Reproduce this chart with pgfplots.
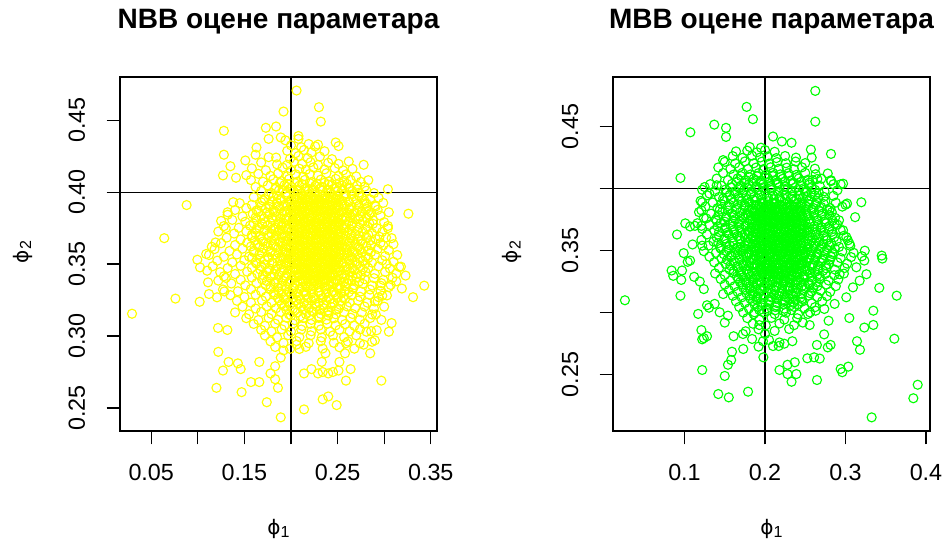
\documentclass[border=0pt]{standalone}
\usepackage{fontspec}
\setmainfont{Liberation Sans}
\newfontfamily\phifont{DejaVu Sans}
\usepackage{pgfplots}
\pgfplotsset{compat=1.18}

\definecolor{ryellow}{RGB}{255,255,0}
\definecolor{rgreen}{RGB}{0,255,0}

\newcommand{\philab}[1]{{\phifont\fontsize{15}{18}\selectfont ϕ}\raisebox{-0.45ex}{\fontsize{12}{14}\selectfont #1}}

\pgfplotsset{
  rpanel/.style={
    scale only axis,
    width=237.75pt, height=265.5pt,
    axis line style={line width=0.9pt},
    tick align=outside,
    major tick length=10pt,
    major tick style={black, line width=0.9pt},
    xtick pos=left, ytick pos=left,
    ticklabel style={font=\fontsize{17.5}{20}\selectfont, inner sep=0pt},
    xticklabel style={anchor=base},
    xticklabel shift=26.75pt,
    yticklabel style={rotate=90, anchor=base},
    yticklabel shift=16.25pt,
    clip=true,
  },
  rpts/.style={only marks, mark=o, mark size=3.4pt, mark options={line width=0.85pt, draw=#1}, color=#1},
  rref/.style={black, line width=0.9pt, no marks},
}

\begin{document}
\begin{tikzpicture}
\useasboundingbox (0,0) rectangle (709.5pt,408pt);

% ---------- left panel: NBB estimates ----------
\begin{axis}[rpanel, at={(90pt,84.75pt)}, anchor=south west,
  xmin=0.0165, xmax=0.3567, ymin=0.234, ymax=0.480,
  xtick={0.05,0.10,0.15,0.20,0.25,0.30,0.35},
  xticklabels={0.05,,0.15,,0.25,,0.35},
  ytick={0.25,0.30,0.35,0.40,0.45},
  yticklabels={0.25,0.30,0.35,0.40,0.45}]
% scattered estimates
\addplot[rpts=ryellow] coordinates {
(0.206,0.4706) (0.230,0.459) (0.232,0.449) (0.192,0.456) (0.128,0.4426) (0.173,0.4447) (0.184,0.4456) (0.176,0.437) (0.189,0.438) (0.194,0.436) (0.208,0.439) (0.208,0.437) (0.229,0.433) (0.248,0.4345) (0.251,0.432) (0.163,0.431) (0.162,0.426) (0.128,0.426) (0.135,0.418) (0.127,0.4116) (0.141,0.410) (0.151,0.422) (0.184,0.424) (0.196,0.419) (0.278,0.419) (0.304,0.402) (0.088,0.391) (0.064,0.368) (0.326,0.385) (0.305,0.386) (0.291,0.390) (0.308,0.368) (0.304,0.375) (0.138,0.393) (0.125,0.380) (0.119,0.365) (0.109,0.357)
(0.132,0.386) (0.130,0.375) (0.115,0.362)
(0.281,0.392) (0.283,0.387) (0.288,0.378) (0.295,0.369) (0.299,0.363) (0.3026,0.350) (0.3162,0.348) (0.313,0.338) (0.305,0.334) (0.298,0.328) (0.296,0.335)
(0.0294,0.3155) (0.076,0.326) (0.343,0.335) (0.331,0.327) (0.319,0.333) (0.323,0.342) (0.122,0.289) (0.127,0.276) (0.120,0.264) (0.133,0.282) (0.143,0.281) (0.146,0.277) (0.166,0.282) (0.157,0.268) (0.166,0.268) (0.147,0.261) (0.174,0.254) (0.189,0.2435) (0.186,0.264) (0.183,0.270) (0.178,0.274) (0.183,0.279) (0.189,0.285) (0.192,0.290) (0.214,0.249) (0.234,0.256) (0.240,0.258) (0.249,0.252) (0.214,0.274) (0.222,0.277) (0.229,0.274) (0.234,0.275) (0.240,0.274) (0.245,0.275) (0.251,0.276) (0.259,0.269) (0.264,0.277) (0.297,0.269) (0.237,0.288) (0.233,0.282) (0.252,0.282) (0.258,0.288) (0.259,0.295) (0.209,0.291) (0.206,0.294) (0.285,0.288) (0.287,0.296) (0.278,0.294) (0.290,0.297) (0.308,0.309) (0.305,0.303) (0.292,0.304) (0.281,0.303) (0.290,0.324) (0.291,0.315)
(0.1217,0.3056) (0.1317,0.3042) (0.102,0.3238) (0.0995,0.3530) (0.1024,0.3477) (0.110,0.3454) (0.111,0.3373) (0.112,0.3292) (0.1206,0.3269) (0.1285,0.331) (0.122,0.3385) (0.128,0.3415)
};
% main cloud
\addplot[rpts=ryellow] coordinates {
(0.200,0.4325) (0.211,0.4312) (0.219,0.4334) (0.226,0.4318)
(0.196,0.4287) (0.205,0.4271) (0.214,0.4293) (0.222,0.4276) (0.236,0.4284)
(0.176,0.4243) (0.199,0.4232) (0.208,0.4251) (0.218,0.4236) (0.231,0.4247) (0.244,0.4229)
(0.168,0.4206) (0.185,0.4193) (0.203,0.4211) (0.212,0.4195) (0.221,0.4208) (0.229,0.4189) (0.240,0.4204) (0.251,0.4196) (0.262,0.4213)
(0.158,0.4165) (0.173,0.4152) (0.191,0.4171) (0.200,0.4149) (0.209,0.4163) (0.216,0.4155) (0.224,0.4172) (0.236,0.4158) (0.247,0.4167) (0.256,0.4151) (0.266,0.4162)
(0.152,0.4118) (0.165,0.4127) (0.178,0.4113) (0.186,0.4129) (0.196,0.4111) (0.205,0.4124) (0.213,0.4108) (0.220,0.4126) (0.229,0.4115) (0.238,0.4131) (0.251,0.4112) (0.259,0.4123) (0.270,0.4109)
(0.157,0.4084) (0.170,0.4072) (0.181,0.4089) (0.190,0.4076) (0.198,0.4091) (0.207,0.4073) (0.215,0.4085) (0.222,0.4069) (0.232,0.4087) (0.241,0.4074) (0.248,0.4092) (0.257,0.4078) (0.264,0.4086) (0.275,0.4071) (0.283,0.4083)
(0.162,0.4036) (0.175,0.4047) (0.184,0.4031) (0.193,0.4049) (0.201,0.4034) (0.209,0.4045) (0.217,0.4029) (0.226,0.4043) (0.233,0.4037) (0.240,0.4051) (0.249,0.4033) (0.255,0.4046) (0.262,0.4032) (0.271,0.4044) (0.279,0.4038)
(0.168,0.4008) (0.179,0.3994) (0.187,0.4011) (0.195,0.3997) (0.203,0.4006) (0.211,0.3991) (0.219,0.4009) (0.226,0.3995) (0.234,0.4012) (0.242,0.3998) (0.250,0.4004) (0.258,0.3989) (0.266,0.4007) (0.273,0.3996) (0.281,0.4010) (0.289,0.3993)
(0.160,0.3965) (0.172,0.3951) (0.181,0.3968) (0.189,0.3954) (0.196,0.3971) (0.203,0.3957) (0.209,0.3963) (0.215,0.3949) (0.221,0.3966) (0.227,0.3952) (0.233,0.3969) (0.239,0.3955) (0.245,0.3962) (0.252,0.3948) (0.259,0.3967) (0.267,0.3953) (0.276,0.3964) (0.285,0.3950) (0.294,0.3961)
(0.145,0.3923) (0.158,0.3912) (0.168,0.3929) (0.177,0.3914) (0.185,0.3926) (0.192,0.3909) (0.199,0.3927) (0.205,0.3913) (0.212,0.3925) (0.218,0.3911) (0.224,0.3928) (0.230,0.3915) (0.236,0.3924) (0.242,0.3910) (0.248,0.3927) (0.255,0.3913) (0.262,0.3929) (0.270,0.3916) (0.279,0.3922) (0.290,0.3908) (0.299,0.3925)
(0.140,0.3876) (0.152,0.3889) (0.163,0.3872) (0.173,0.3887) (0.181,0.3871) (0.188,0.3884) (0.195,0.3869) (0.201,0.3886) (0.207,0.3873) (0.213,0.3888) (0.219,0.3874) (0.225,0.3885) (0.231,0.3870) (0.237,0.3887) (0.243,0.3875) (0.249,0.3883) (0.256,0.3868) (0.263,0.3886) (0.271,0.3873) (0.281,0.3884) (0.293,0.3877)
(0.132,0.3843) (0.148,0.3831) (0.159,0.3847) (0.168,0.3834) (0.177,0.3849) (0.184,0.3832) (0.191,0.3845) (0.198,0.3829) (0.204,0.3846) (0.210,0.3833) (0.216,0.3848) (0.222,0.3835) (0.228,0.3844) (0.234,0.3830) (0.240,0.3847) (0.246,0.3834) (0.252,0.3843) (0.259,0.3829) (0.266,0.3846) (0.274,0.3832) (0.284,0.3844) (0.296,0.3836)
(0.137,0.3807) (0.151,0.3794) (0.163,0.3809) (0.172,0.3792) (0.180,0.3806) (0.187,0.3791) (0.194,0.3808) (0.201,0.3795) (0.207,0.3810) (0.213,0.3793) (0.219,0.3805) (0.225,0.3790) (0.231,0.3808) (0.237,0.3796) (0.243,0.3809) (0.249,0.3792) (0.255,0.3806) (0.262,0.3794) (0.269,0.3811) (0.277,0.3797) (0.288,0.3804) (0.300,0.3791)
(0.128,0.3764) (0.144,0.3752) (0.156,0.3767) (0.166,0.3751) (0.175,0.3769) (0.183,0.3754) (0.190,0.3766) (0.197,0.3750) (0.203,0.3768) (0.209,0.3753) (0.215,0.3765) (0.221,0.3749) (0.227,0.3767) (0.233,0.3755) (0.239,0.3763) (0.245,0.3751) (0.251,0.3769) (0.258,0.3752) (0.265,0.3766) (0.273,0.3754) (0.282,0.3762) (0.292,0.3750) (0.304,0.3765)
(0.122,0.3726) (0.139,0.3712) (0.152,0.3728) (0.162,0.3715) (0.171,0.3729) (0.179,0.3711) (0.186,0.3724) (0.193,0.3709) (0.200,0.3727) (0.206,0.3713) (0.212,0.3726) (0.218,0.3710) (0.224,0.3728) (0.230,0.3714) (0.236,0.3725) (0.242,0.3712) (0.248,0.3729) (0.254,0.3716) (0.261,0.3723) (0.269,0.3709) (0.277,0.3727) (0.287,0.3713) (0.298,0.3724)
(0.131,0.3684) (0.146,0.3671) (0.158,0.3687) (0.168,0.3673) (0.176,0.3689) (0.183,0.3674) (0.190,0.3686) (0.197,0.3669) (0.203,0.3685) (0.209,0.3672) (0.215,0.3688) (0.221,0.3675) (0.227,0.3683) (0.233,0.3670) (0.239,0.3687) (0.245,0.3673) (0.251,0.3689) (0.257,0.3676) (0.264,0.3682) (0.272,0.3671) (0.281,0.3686) (0.291,0.3674) (0.302,0.3685)
(0.125,0.3645) (0.140,0.3632) (0.153,0.3648) (0.164,0.3634) (0.173,0.3647) (0.181,0.3631) (0.188,0.3649) (0.195,0.3633) (0.201,0.3646) (0.207,0.3630) (0.213,0.3648) (0.219,0.3635) (0.225,0.3644) (0.231,0.3629) (0.237,0.3647) (0.243,0.3634) (0.249,0.3645) (0.255,0.3632) (0.262,0.3648) (0.269,0.3636) (0.277,0.3643) (0.286,0.3631) (0.296,0.3646) (0.310,0.3638)
(0.118,0.3604) (0.134,0.3591) (0.148,0.3607) (0.160,0.3593) (0.170,0.3609) (0.178,0.3592) (0.186,0.3605) (0.193,0.3590) (0.199,0.3608) (0.205,0.3594) (0.211,0.3606) (0.217,0.3589) (0.223,0.3607) (0.229,0.3595) (0.235,0.3603) (0.241,0.3591) (0.247,0.3609) (0.253,0.3596) (0.259,0.3604) (0.266,0.3590) (0.274,0.3606) (0.283,0.3593) (0.293,0.3605) (0.305,0.3597)
(0.112,0.3563) (0.128,0.3551) (0.142,0.3567) (0.155,0.3552) (0.166,0.3568) (0.175,0.3554) (0.183,0.3566) (0.190,0.3549) (0.197,0.3565) (0.203,0.3553) (0.209,0.3569) (0.215,0.3550) (0.221,0.3564) (0.227,0.3552) (0.233,0.3567) (0.239,0.3555) (0.245,0.3562) (0.251,0.3548) (0.257,0.3566) (0.264,0.3553) (0.271,0.3568) (0.280,0.3551) (0.290,0.3564) (0.301,0.3556) (0.314,0.3563)
(0.121,0.3524) (0.137,0.3512) (0.150,0.3527) (0.162,0.3513) (0.172,0.3529) (0.180,0.3511) (0.188,0.3526) (0.195,0.3514) (0.201,0.3528) (0.207,0.3510) (0.213,0.3525) (0.219,0.3513) (0.225,0.3527) (0.231,0.3509) (0.237,0.3526) (0.243,0.3514) (0.249,0.3524) (0.255,0.3511) (0.262,0.3528) (0.269,0.3515) (0.277,0.3523) (0.287,0.3510) (0.298,0.3526) (0.310,0.3516)
(0.116,0.3485) (0.132,0.3472) (0.146,0.3488) (0.158,0.3474) (0.168,0.3486) (0.177,0.3470) (0.185,0.3487) (0.192,0.3473) (0.198,0.3489) (0.204,0.3471) (0.210,0.3484) (0.216,0.3476) (0.222,0.3488) (0.228,0.3472) (0.234,0.3485) (0.240,0.3469) (0.246,0.3487) (0.252,0.3474) (0.259,0.3483) (0.266,0.3471) (0.274,0.3486) (0.283,0.3473) (0.294,0.3484) (0.306,0.3470) (0.318,0.3482)
(0.124,0.3444) (0.140,0.3431) (0.153,0.3447) (0.164,0.3433) (0.174,0.3448) (0.182,0.3430) (0.189,0.3445) (0.196,0.3434) (0.202,0.3447) (0.208,0.3429) (0.214,0.3446) (0.220,0.3432) (0.226,0.3443) (0.232,0.3435) (0.238,0.3448) (0.244,0.3431) (0.250,0.3444) (0.256,0.3430) (0.263,0.3447) (0.271,0.3433) (0.280,0.3445) (0.290,0.3432) (0.301,0.3446) (0.313,0.3434)
(0.130,0.3404) (0.146,0.3391) (0.158,0.3407) (0.169,0.3393) (0.178,0.3408) (0.186,0.3390) (0.193,0.3405) (0.200,0.3392) (0.206,0.3409) (0.212,0.3394) (0.218,0.3403) (0.224,0.3389) (0.230,0.3406) (0.236,0.3393) (0.242,0.3408) (0.248,0.3391) (0.255,0.3404) (0.262,0.3390) (0.270,0.3407) (0.279,0.3395) (0.289,0.3402) (0.299,0.3390) (0.309,0.3405)
(0.136,0.3365) (0.151,0.3352) (0.163,0.3368) (0.173,0.3354) (0.182,0.3366) (0.190,0.3350) (0.197,0.3367) (0.204,0.3353) (0.210,0.3369) (0.216,0.3351) (0.222,0.3364) (0.228,0.3355) (0.234,0.3368) (0.240,0.3352) (0.246,0.3365) (0.253,0.3349) (0.260,0.3366) (0.268,0.3354) (0.277,0.3363) (0.287,0.3351) (0.297,0.3367) (0.307,0.3355)
(0.127,0.3323) (0.143,0.3311) (0.157,0.3326) (0.168,0.3312) (0.178,0.3328) (0.187,0.3310) (0.195,0.3325) (0.202,0.3313) (0.209,0.3327) (0.216,0.3309) (0.223,0.3324) (0.230,0.3314) (0.237,0.3326) (0.244,0.3311) (0.251,0.3328) (0.258,0.3312) (0.266,0.3325) (0.275,0.3310) (0.285,0.3323) (0.296,0.3314)
(0.135,0.3284) (0.150,0.3271) (0.162,0.3287) (0.173,0.3273) (0.183,0.3288) (0.192,0.3270) (0.200,0.3285) (0.208,0.3274) (0.216,0.3286) (0.224,0.3269) (0.232,0.3283) (0.240,0.3272) (0.248,0.3287) (0.256,0.3271) (0.265,0.3284) (0.274,0.3273) (0.284,0.3286) (0.294,0.3270) (0.303,0.3282)
(0.142,0.3245) (0.157,0.3232) (0.169,0.3247) (0.179,0.3231) (0.188,0.3246) (0.197,0.3233) (0.206,0.3248) (0.214,0.3230) (0.222,0.3244) (0.230,0.3234) (0.238,0.3247) (0.246,0.3231) (0.254,0.3245) (0.263,0.3233) (0.272,0.3246) (0.282,0.3232) (0.293,0.3244)
(0.148,0.3204) (0.162,0.3191) (0.174,0.3207) (0.184,0.3193) (0.193,0.3208) (0.202,0.3190) (0.211,0.3205) (0.219,0.3192) (0.227,0.3206) (0.235,0.3194) (0.243,0.3203) (0.251,0.3189) (0.260,0.3206) (0.269,0.3193) (0.279,0.3205) (0.289,0.3191) (0.300,0.3204)
(0.140,0.3164) (0.155,0.3151) (0.168,0.3167) (0.179,0.3153) (0.189,0.3166) (0.198,0.3150) (0.207,0.3165) (0.216,0.3152) (0.224,0.3168) (0.232,0.3154) (0.240,0.3163) (0.248,0.3151) (0.257,0.3166) (0.266,0.3153) (0.276,0.3164) (0.287,0.3150)
(0.152,0.3124) (0.165,0.3111) (0.176,0.3126) (0.186,0.3113) (0.195,0.3127) (0.204,0.3110) (0.213,0.3125) (0.222,0.3112) (0.230,0.3126) (0.238,0.3114) (0.246,0.3123) (0.255,0.3111) (0.264,0.3127) (0.274,0.3113) (0.285,0.3125) (0.297,0.3112)
(0.160,0.3084) (0.172,0.3071) (0.183,0.3086) (0.193,0.3073) (0.202,0.3087) (0.212,0.3070) (0.221,0.3085) (0.230,0.3072) (0.239,0.3086) (0.248,0.3074) (0.258,0.3083) (0.268,0.3071) (0.279,0.3085)
(0.168,0.3043) (0.179,0.3032) (0.190,0.3047) (0.200,0.3031) (0.211,0.3045) (0.222,0.3033) (0.232,0.3046) (0.242,0.3030) (0.252,0.3044) (0.263,0.3032) (0.274,0.3046) (0.286,0.3034)
(0.172,0.3004) (0.185,0.2991) (0.197,0.3006) (0.209,0.2993) (0.221,0.3005) (0.233,0.2990) (0.245,0.3004) (0.257,0.2992) (0.270,0.3005)
(0.178,0.2963) (0.192,0.2952) (0.206,0.2965) (0.219,0.2951) (0.232,0.2964) (0.246,0.2953) (0.261,0.2962) (0.274,0.2950)
(0.183,0.2924) (0.199,0.2911) (0.216,0.2925) (0.234,0.2913) (0.252,0.2922) (0.268,0.2912)
};
% filling around the centre
\addplot[rpts=ryellow] coordinates {
(0.188,0.4063) (0.196,0.4057) (0.204,0.4064) (0.212,0.4056) (0.220,0.4062) (0.228,0.4058) (0.236,0.4065) (0.244,0.4056) (0.252,0.4063) (0.260,0.4057)
(0.183,0.4022) (0.191,0.4017) (0.199,0.4024) (0.207,0.4016) (0.215,0.4023) (0.223,0.4018) (0.231,0.4024) (0.239,0.4016) (0.247,0.4023) (0.255,0.4017) (0.263,0.4024) (0.271,0.4018)
(0.176,0.3983) (0.185,0.3977) (0.194,0.3984) (0.257,0.3976) (0.265,0.3983) (0.273,0.3977)
(0.170,0.3942) (0.180,0.3937) (0.189,0.3944) (0.262,0.3936) (0.270,0.3943) (0.279,0.3938)
(0.168,0.3903) (0.177,0.3897) (0.186,0.3904) (0.265,0.3896) (0.273,0.3903) (0.282,0.3898)
(0.165,0.3862) (0.174,0.3857) (0.183,0.3864) (0.268,0.3856) (0.276,0.3863) (0.286,0.3857)
(0.162,0.3823) (0.171,0.3817) (0.180,0.3824) (0.189,0.3816) (0.264,0.3823) (0.272,0.3818) (0.281,0.3824)
(0.160,0.3782) (0.169,0.3777) (0.178,0.3784) (0.186,0.3776) (0.266,0.3783) (0.274,0.3777) (0.284,0.3784)
(0.163,0.3743) (0.172,0.3737) (0.181,0.3744) (0.188,0.3736) (0.263,0.3743) (0.271,0.3738) (0.280,0.3744)
(0.158,0.3702) (0.167,0.3697) (0.176,0.3704) (0.184,0.3696) (0.265,0.3703) (0.273,0.3697) (0.283,0.3704)
(0.161,0.3663) (0.170,0.3657) (0.179,0.3664) (0.187,0.3656) (0.267,0.3663) (0.275,0.3658) (0.285,0.3664)
(0.157,0.3622) (0.166,0.3617) (0.175,0.3624) (0.184,0.3616) (0.264,0.3623) (0.272,0.3617) (0.281,0.3624)
(0.160,0.3583) (0.169,0.3577) (0.178,0.3584) (0.187,0.3576) (0.268,0.3583) (0.276,0.3578) (0.286,0.3584)
(0.158,0.3542) (0.167,0.3537) (0.176,0.3544) (0.185,0.3536) (0.266,0.3543) (0.274,0.3537) (0.283,0.3544)
(0.163,0.3503) (0.172,0.3497) (0.181,0.3504) (0.189,0.3496) (0.263,0.3503) (0.271,0.3498) (0.280,0.3504)
(0.167,0.3462) (0.176,0.3457) (0.184,0.3464) (0.192,0.3456) (0.260,0.3463) (0.268,0.3457) (0.277,0.3464)
(0.170,0.3423) (0.179,0.3417) (0.187,0.3424) (0.195,0.3416) (0.258,0.3423) (0.266,0.3418) (0.275,0.3424)
(0.174,0.3382) (0.183,0.3377) (0.191,0.3384) (0.199,0.3376) (0.250,0.3383) (0.257,0.3377) (0.265,0.3384) (0.273,0.3378)
(0.178,0.3343) (0.186,0.3337) (0.194,0.3344) (0.202,0.3336) (0.243,0.3343) (0.250,0.3338) (0.258,0.3344) (0.267,0.3337)
(0.182,0.3302) (0.190,0.3297) (0.198,0.3304) (0.206,0.3296) (0.214,0.3303) (0.222,0.3297) (0.230,0.3304) (0.238,0.3296) (0.246,0.3303) (0.254,0.3298) (0.262,0.3304)
(0.186,0.3263) (0.194,0.3257) (0.202,0.3264) (0.210,0.3256) (0.218,0.3263) (0.226,0.3258) (0.234,0.3264) (0.242,0.3256) (0.250,0.3263) (0.258,0.3257)
(0.190,0.3222) (0.199,0.3217) (0.208,0.3224) (0.217,0.3216) (0.226,0.3223) (0.235,0.3217) (0.244,0.3224) (0.253,0.3216)
(0.195,0.3183) (0.204,0.3177) (0.213,0.3184) (0.222,0.3176) (0.231,0.3183) (0.240,0.3178) (0.249,0.3184)
(0.200,0.3142) (0.210,0.3137) (0.220,0.3144) (0.230,0.3136) (0.240,0.3143)
};
% dense centre of the cloud
\addplot[rpts=ryellow] coordinates {
(0.207,0.3982) (0.213,0.3977) (0.219,0.3985) (0.225,0.3979) (0.231,0.3984) (0.237,0.3976) (0.244,0.3983) (0.250,0.3978)
(0.200,0.3943) (0.206,0.3936) (0.212,0.3945) (0.218,0.3938) (0.224,0.3944) (0.230,0.3935) (0.236,0.3942) (0.242,0.3937) (0.248,0.3946) (0.255,0.3939)
(0.196,0.3902) (0.202,0.3897) (0.208,0.3905) (0.214,0.3898) (0.220,0.3904) (0.226,0.3896) (0.232,0.3903) (0.238,0.3899) (0.244,0.3906) (0.251,0.3897) (0.258,0.3903)
(0.193,0.3863) (0.199,0.3856) (0.205,0.3864) (0.211,0.3857) (0.217,0.3862) (0.223,0.3855) (0.229,0.3865) (0.235,0.3858) (0.241,0.3863) (0.247,0.3856) (0.254,0.3862) (0.261,0.3857)
(0.196,0.3822) (0.202,0.3816) (0.208,0.3824) (0.214,0.3817) (0.220,0.3823) (0.226,0.3815) (0.232,0.3825) (0.238,0.3818) (0.244,0.3822) (0.250,0.3816) (0.257,0.3824)
(0.192,0.3783) (0.198,0.3776) (0.204,0.3784) (0.210,0.3777) (0.216,0.3785) (0.222,0.3775) (0.228,0.3782) (0.234,0.3778) (0.240,0.3784) (0.246,0.3776) (0.252,0.3783) (0.259,0.3777)
(0.195,0.3742) (0.201,0.3736) (0.207,0.3744) (0.213,0.3737) (0.219,0.3743) (0.225,0.3735) (0.231,0.3745) (0.237,0.3738) (0.243,0.3742) (0.249,0.3736) (0.256,0.3744)
(0.190,0.3703) (0.196,0.3696) (0.203,0.3704) (0.209,0.3697) (0.215,0.3705) (0.221,0.3695) (0.227,0.3702) (0.233,0.3698) (0.239,0.3704) (0.245,0.3696) (0.251,0.3703) (0.258,0.3697)
(0.194,0.3662) (0.200,0.3656) (0.206,0.3664) (0.212,0.3657) (0.218,0.3663) (0.224,0.3655) (0.230,0.3665) (0.236,0.3658) (0.242,0.3662) (0.248,0.3656) (0.254,0.3664) (0.260,0.3657)
(0.191,0.3623) (0.197,0.3616) (0.204,0.3624) (0.210,0.3617) (0.216,0.3625) (0.222,0.3615) (0.228,0.3622) (0.234,0.3618) (0.240,0.3624) (0.246,0.3616) (0.252,0.3623) (0.258,0.3617)
(0.194,0.3582) (0.200,0.3576) (0.206,0.3584) (0.212,0.3577) (0.218,0.3583) (0.224,0.3575) (0.230,0.3585) (0.236,0.3578) (0.242,0.3582) (0.248,0.3576) (0.254,0.3584) (0.261,0.3577)
(0.192,0.3543) (0.198,0.3536) (0.204,0.3544) (0.210,0.3537) (0.216,0.3545) (0.222,0.3535) (0.228,0.3542) (0.234,0.3538) (0.240,0.3544) (0.246,0.3536) (0.252,0.3543) (0.259,0.3537)
(0.195,0.3502) (0.201,0.3496) (0.207,0.3504) (0.213,0.3497) (0.219,0.3503) (0.225,0.3495) (0.231,0.3505) (0.237,0.3498) (0.243,0.3502) (0.249,0.3496) (0.256,0.3504)
(0.199,0.3463) (0.205,0.3456) (0.211,0.3464) (0.217,0.3457) (0.223,0.3465) (0.229,0.3455) (0.235,0.3462) (0.241,0.3458) (0.247,0.3464) (0.253,0.3456)
(0.203,0.3422) (0.209,0.3416) (0.215,0.3424) (0.221,0.3417) (0.227,0.3423) (0.233,0.3415) (0.239,0.3425) (0.245,0.3418) (0.251,0.3422)
(0.207,0.3383) (0.213,0.3376) (0.219,0.3384) (0.225,0.3377) (0.231,0.3385) (0.237,0.3375) (0.243,0.3382)
(0.212,0.3342) (0.218,0.3336) (0.224,0.3344) (0.230,0.3337) (0.236,0.3343)
(0.206,0.3951) (0.212,0.3958) (0.218,0.3950) (0.224,0.3957) (0.230,0.3949) (0.236,0.3956) (0.242,0.3952) (0.248,0.3958)
(0.203,0.3911) (0.209,0.3917) (0.215,0.3909) (0.221,0.3916) (0.227,0.3910) (0.233,0.3918) (0.239,0.3912) (0.245,0.3917) (0.251,0.3910)
(0.203,0.3871) (0.209,0.3877) (0.215,0.3869) (0.221,0.3876) (0.227,0.3870) (0.233,0.3878) (0.239,0.3872) (0.245,0.3877) (0.251,0.3870)
(0.203,0.3831) (0.209,0.3837) (0.215,0.3829) (0.221,0.3836) (0.227,0.3830) (0.233,0.3838) (0.239,0.3832) (0.245,0.3837) (0.251,0.3830)
(0.203,0.3791) (0.209,0.3797) (0.215,0.3789) (0.221,0.3796) (0.227,0.3790) (0.233,0.3798) (0.239,0.3792) (0.245,0.3797) (0.251,0.3790)
(0.203,0.3751) (0.209,0.3757) (0.215,0.3749) (0.221,0.3756) (0.227,0.3750) (0.233,0.3758) (0.239,0.3752) (0.245,0.3757) (0.251,0.3750)
(0.203,0.3711) (0.209,0.3717) (0.215,0.3709) (0.221,0.3716) (0.227,0.3710) (0.233,0.3718) (0.239,0.3712) (0.245,0.3717) (0.251,0.3710)
(0.203,0.3671) (0.209,0.3677) (0.215,0.3669) (0.221,0.3676) (0.227,0.3670) (0.233,0.3678) (0.239,0.3672) (0.245,0.3677) (0.251,0.3670)
(0.203,0.3631) (0.209,0.3637) (0.215,0.3629) (0.221,0.3636) (0.227,0.3630) (0.233,0.3638) (0.239,0.3632) (0.245,0.3637) (0.251,0.3630)
(0.203,0.3591) (0.209,0.3597) (0.215,0.3589) (0.221,0.3596) (0.227,0.3590) (0.233,0.3598) (0.239,0.3592) (0.245,0.3597) (0.251,0.3590)
(0.203,0.3551) (0.209,0.3557) (0.215,0.3549) (0.221,0.3556) (0.227,0.3550) (0.233,0.3558) (0.239,0.3552) (0.245,0.3557) (0.251,0.3550)
(0.203,0.3511) (0.209,0.3517) (0.215,0.3509) (0.221,0.3516) (0.227,0.3510) (0.233,0.3518) (0.239,0.3512) (0.245,0.3517) (0.251,0.3510)
(0.206,0.3471) (0.212,0.3477) (0.218,0.3469) (0.224,0.3476) (0.230,0.3470) (0.236,0.3478) (0.242,0.3472) (0.248,0.3477)
(0.209,0.3431) (0.215,0.3437) (0.221,0.3429) (0.227,0.3436) (0.233,0.3430) (0.239,0.3438) (0.245,0.3432)
(0.212,0.3391) (0.218,0.3397) (0.224,0.3389) (0.230,0.3396) (0.236,0.3390)
};
% true parameter values
\addplot[rref] coordinates {(0.2,0.2) (0.2,0.5)};
\addplot[rref] coordinates {(0.0,0.4) (0.4,0.4)};
\end{axis}

% ---------- right panel: MBB estimates ----------
\begin{axis}[rpanel, at={(459.75pt,84.75pt)}, anchor=south west,
  xmin=0.0112, xmax=0.405, ymin=0.2046, ymax=0.490,
  xtick={0.1,0.2,0.3,0.4},
  xticklabels={0.1,0.2,0.3,0.4},
  ytick={0.25,0.30,0.35,0.40,0.45},
  yticklabels={0.25,,0.35,,0.45}]
% scattered estimates
\addplot[rpts=rgreen] coordinates {
(0.2625,0.4788) (0.2625,0.454) (0.1772,0.4659) (0.185,0.456) (0.137,0.4516) (0.1516,0.449) (0.1516,0.4417) (0.1073,0.4454) (0.210,0.442) (0.221,0.438) (0.233,0.437) (0.257,0.4315) (0.258,0.425) (0.282,0.428) (0.2385,0.425) (0.164,0.430) (0.181,0.4336) (0.195,0.433) (0.148,0.423) (0.095,0.4086) (0.297,0.404) (0.294,0.4035) (0.282,0.406) (0.270,0.408) (0.259,0.407) (0.3197,0.389) (0.300,0.387) (0.302,0.388) (0.312,0.377) (0.292,0.3745) (0.324,0.350) (0.345,0.346) (0.0907,0.363) (0.101,0.372) (0.107,0.3695) (0.113,0.370) (0.099,0.348) (0.110,0.355) (0.122,0.354)
(0.121,0.3825) (0.122,0.389) (0.127,0.376) (0.131,0.396) (0.140,0.4027) (0.125,0.4013) (0.121,0.370)
(0.301,0.361) (0.305,0.3556) (0.297,0.3664) (0.2865,0.3718) (0.280,0.3825)
(0.026,0.310) (0.095,0.3137) (0.084,0.334) (0.086,0.3297) (0.096,0.3264) (0.097,0.334) (0.112,0.3289) (0.119,0.3251) (0.124,0.319) (0.107,0.342) (0.104,0.341) (0.117,0.299) (0.1305,0.304) (0.128,0.306) (0.121,0.286) (0.122,0.2785) (0.128,0.281) (0.124,0.2795) (0.122,0.2538) (0.150,0.249) (0.154,0.258) (0.158,0.2618) (0.159,0.2685) (0.142,0.2344) (0.155,0.2317) (0.179,0.2363) (0.173,0.2707) (0.161,0.281) (0.192,0.2726) (0.198,0.264) (0.218,0.2538) (0.228,0.258) (0.237,0.260) (0.239,0.2505) (0.228,0.2505) (0.233,0.2443) (0.234,0.277) (0.224,0.275) (0.217,0.2731) (0.210,0.2731) (0.2526,0.2632) (0.261,0.264) (0.268,0.263) (0.2645,0.274) (0.2735,0.2825) (0.278,0.272) (0.2815,0.274) (0.2646,0.2457) (0.294,0.2546) (0.296,0.252) (0.3035,0.2565) (0.3143,0.277) (0.318,0.2701) (0.3234,0.288) (0.3346,0.2901) (0.3346,0.3016) (0.3048,0.2957) (0.279,0.2935) (0.3607,0.279) (0.3636,0.3137) (0.342,0.320) (0.3458,0.3436) (0.3234,0.342) (0.3205,0.3455) (0.3897,0.2419) (0.3843,0.231) (0.3325,0.2156)
(0.2555,0.290) (0.247,0.292) (0.2534,0.2989) (0.263,0.3016) (0.2737,0.303) (0.187,0.3003) (0.193,0.290) (0.184,0.2788) (0.176,0.285) (0.1727,0.2828) (0.200,0.2828) (0.1975,0.277) (0.205,0.278) (0.218,0.276) (0.150,0.292) (0.154,0.2976) (0.1437,0.3003) (0.1375,0.3071) (0.148,0.315) (0.2865,0.3071) (0.301,0.3124) (0.3093,0.3204) (0.3176,0.3258) (0.326,0.331) (0.2927,0.331) (0.3135,0.3366)
};
% main cloud
\addplot[rpts=rgreen] coordinates {
(0.178,0.4306) (0.190,0.4293) (0.200,0.4311) (0.212,0.4297)
(0.160,0.4262) (0.172,0.4248) (0.184,0.4266) (0.194,0.4251) (0.203,0.4259) (0.214,0.4246) (0.225,0.4263)
(0.150,0.4216) (0.163,0.4203) (0.175,0.4219) (0.186,0.4204) (0.196,0.4217) (0.205,0.4202) (0.215,0.4214) (0.226,0.4205) (0.238,0.4218) (0.250,0.4206)
(0.142,0.4171) (0.157,0.4158) (0.168,0.4173) (0.179,0.4159) (0.189,0.4170) (0.198,0.4157) (0.207,0.4172) (0.217,0.4160) (0.227,0.4169) (0.236,0.4156) (0.246,0.4172) (0.262,0.4161)
(0.148,0.4126) (0.161,0.4113) (0.172,0.4128) (0.182,0.4114) (0.192,0.4125) (0.201,0.4112) (0.210,0.4127) (0.219,0.4115) (0.229,0.4124) (0.239,0.4111) (0.250,0.4127) (0.263,0.4116) (0.278,0.4122)
(0.140,0.4081) (0.154,0.4068) (0.166,0.4083) (0.176,0.4069) (0.186,0.4080) (0.195,0.4067) (0.204,0.4082) (0.213,0.4070) (0.222,0.4079) (0.232,0.4066) (0.242,0.4082) (0.253,0.4071) (0.265,0.4078) (0.282,0.4068)
(0.132,0.4036) (0.146,0.4023) (0.159,0.4038) (0.170,0.4024) (0.180,0.4035) (0.189,0.4022) (0.198,0.4037) (0.207,0.4025) (0.216,0.4034) (0.225,0.4021) (0.234,0.4037) (0.244,0.4026) (0.255,0.4033) (0.268,0.4023) (0.285,0.4035)
(0.122,0.3991) (0.138,0.3978) (0.151,0.3993) (0.163,0.3979) (0.174,0.3990) (0.183,0.3977) (0.192,0.3992) (0.200,0.3980) (0.208,0.3989) (0.216,0.3976) (0.224,0.3992) (0.233,0.3981) (0.242,0.3988) (0.252,0.3978) (0.262,0.3991) (0.274,0.3979) (0.290,0.3987)
(0.128,0.3946) (0.143,0.3933) (0.156,0.3948) (0.167,0.3934) (0.177,0.3945) (0.186,0.3932) (0.194,0.3947) (0.202,0.3935) (0.210,0.3944) (0.218,0.3931) (0.226,0.3947) (0.234,0.3936) (0.243,0.3943) (0.252,0.3933) (0.262,0.3946) (0.273,0.3934) (0.285,0.3942)
(0.120,0.3901) (0.135,0.3888) (0.149,0.3903) (0.161,0.3889) (0.171,0.3900) (0.180,0.3887) (0.188,0.3902) (0.196,0.3890) (0.204,0.3899) (0.212,0.3886) (0.220,0.3902) (0.228,0.3891) (0.236,0.3898) (0.245,0.3888) (0.254,0.3901) (0.264,0.3889) (0.275,0.3897) (0.288,0.3887)
(0.126,0.3856) (0.141,0.3843) (0.154,0.3858) (0.165,0.3844) (0.175,0.3855) (0.184,0.3842) (0.192,0.3857) (0.200,0.3845) (0.207,0.3854) (0.214,0.3841) (0.221,0.3857) (0.228,0.3846) (0.235,0.3853) (0.243,0.3843) (0.251,0.3856) (0.260,0.3844) (0.270,0.3852) (0.281,0.3842) (0.296,0.3855)
(0.118,0.3811) (0.133,0.3798) (0.147,0.3813) (0.159,0.3799) (0.169,0.3810) (0.178,0.3797) (0.186,0.3812) (0.194,0.3800) (0.201,0.3809) (0.208,0.3796) (0.215,0.3812) (0.222,0.3801) (0.229,0.3808) (0.236,0.3798) (0.244,0.3811) (0.252,0.3799) (0.261,0.3807) (0.271,0.3797) (0.283,0.3810)
(0.124,0.3766) (0.139,0.3753) (0.152,0.3768) (0.163,0.3754) (0.173,0.3765) (0.182,0.3752) (0.190,0.3767) (0.197,0.3755) (0.204,0.3764) (0.211,0.3751) (0.218,0.3767) (0.225,0.3756) (0.232,0.3763) (0.239,0.3753) (0.247,0.3766) (0.255,0.3754) (0.264,0.3762) (0.274,0.3752) (0.287,0.3765)
(0.116,0.3721) (0.131,0.3708) (0.145,0.3723) (0.157,0.3709) (0.167,0.3720) (0.176,0.3707) (0.184,0.3722) (0.191,0.3710) (0.198,0.3719) (0.205,0.3706) (0.212,0.3722) (0.219,0.3711) (0.226,0.3718) (0.233,0.3708) (0.240,0.3721) (0.248,0.3709) (0.256,0.3717) (0.265,0.3707) (0.276,0.3720) (0.290,0.3710)
(0.122,0.3676) (0.137,0.3663) (0.150,0.3678) (0.161,0.3664) (0.171,0.3675) (0.180,0.3662) (0.188,0.3677) (0.195,0.3665) (0.202,0.3674) (0.209,0.3661) (0.216,0.3677) (0.223,0.3666) (0.230,0.3673) (0.237,0.3663) (0.244,0.3676) (0.252,0.3664) (0.260,0.3672) (0.269,0.3662) (0.280,0.3675) (0.294,0.3665)
(0.128,0.3631) (0.143,0.3618) (0.155,0.3633) (0.166,0.3619) (0.175,0.3630) (0.184,0.3617) (0.191,0.3632) (0.198,0.3620) (0.205,0.3629) (0.212,0.3616) (0.219,0.3632) (0.226,0.3621) (0.233,0.3628) (0.240,0.3618) (0.247,0.3631) (0.255,0.3619) (0.263,0.3627) (0.273,0.3617) (0.284,0.3630) (0.298,0.3620)
(0.121,0.3586) (0.136,0.3573) (0.149,0.3588) (0.160,0.3574) (0.170,0.3585) (0.179,0.3572) (0.187,0.3587) (0.194,0.3575) (0.201,0.3584) (0.208,0.3571) (0.215,0.3587) (0.222,0.3576) (0.229,0.3583) (0.236,0.3573) (0.243,0.3586) (0.250,0.3574) (0.258,0.3582) (0.267,0.3572) (0.277,0.3585) (0.289,0.3575) (0.303,0.3583)
(0.130,0.3541) (0.144,0.3528) (0.156,0.3543) (0.166,0.3529) (0.175,0.3540) (0.183,0.3527) (0.190,0.3542) (0.197,0.3530) (0.204,0.3539) (0.211,0.3526) (0.218,0.3542) (0.225,0.3531) (0.232,0.3538) (0.239,0.3528) (0.246,0.3541) (0.253,0.3529) (0.261,0.3537) (0.270,0.3527) (0.280,0.3540) (0.292,0.3530) (0.306,0.3538)
(0.124,0.3496) (0.139,0.3483) (0.152,0.3498) (0.163,0.3484) (0.172,0.3495) (0.180,0.3482) (0.187,0.3497) (0.194,0.3485) (0.201,0.3494) (0.208,0.3481) (0.215,0.3497) (0.222,0.3486) (0.229,0.3493) (0.236,0.3483) (0.243,0.3496) (0.250,0.3484) (0.257,0.3492) (0.265,0.3482) (0.274,0.3495) (0.284,0.3485) (0.296,0.3493) (0.310,0.3483)
(0.131,0.3451) (0.146,0.3438) (0.158,0.3453) (0.168,0.3439) (0.177,0.3450) (0.185,0.3437) (0.192,0.3452) (0.199,0.3440) (0.206,0.3449) (0.213,0.3436) (0.220,0.3452) (0.227,0.3441) (0.234,0.3448) (0.241,0.3438) (0.248,0.3451) (0.255,0.3439) (0.263,0.3447) (0.272,0.3437) (0.282,0.3450) (0.294,0.3440) (0.307,0.3448)
(0.137,0.3406) (0.151,0.3393) (0.163,0.3408) (0.173,0.3394) (0.181,0.3405) (0.189,0.3392) (0.196,0.3407) (0.203,0.3395) (0.210,0.3404) (0.217,0.3391) (0.224,0.3407) (0.231,0.3396) (0.238,0.3403) (0.245,0.3393) (0.252,0.3406) (0.260,0.3394) (0.269,0.3402) (0.279,0.3392) (0.290,0.3405) (0.302,0.3395)
(0.143,0.3361) (0.156,0.3348) (0.167,0.3363) (0.177,0.3349) (0.186,0.3360) (0.194,0.3347) (0.201,0.3362) (0.208,0.3350) (0.215,0.3359) (0.222,0.3346) (0.229,0.3362) (0.236,0.3351) (0.243,0.3358) (0.250,0.3348) (0.258,0.3361) (0.266,0.3349) (0.276,0.3357) (0.287,0.3347) (0.299,0.3360)
(0.138,0.3316) (0.150,0.3303) (0.161,0.3318) (0.171,0.3304) (0.180,0.3315) (0.189,0.3302) (0.197,0.3317) (0.205,0.3305) (0.212,0.3314) (0.219,0.3301) (0.226,0.3317) (0.233,0.3306) (0.240,0.3313) (0.248,0.3303) (0.256,0.3316) (0.265,0.3304) (0.275,0.3312) (0.286,0.3302) (0.298,0.3315)
(0.145,0.3271) (0.157,0.3258) (0.167,0.3273) (0.176,0.3259) (0.185,0.3270) (0.193,0.3257) (0.201,0.3272) (0.209,0.3260) (0.217,0.3269) (0.225,0.3256) (0.233,0.3272) (0.241,0.3261) (0.249,0.3268) (0.258,0.3258) (0.268,0.3271) (0.279,0.3259) (0.291,0.3267)
(0.150,0.3226) (0.162,0.3213) (0.172,0.3228) (0.181,0.3214) (0.190,0.3225) (0.198,0.3212) (0.206,0.3227) (0.214,0.3215) (0.222,0.3224) (0.230,0.3211) (0.238,0.3227) (0.246,0.3216) (0.255,0.3223) (0.265,0.3213) (0.276,0.3226) (0.288,0.3214)
(0.155,0.3181) (0.166,0.3168) (0.176,0.3183) (0.185,0.3169) (0.194,0.3180) (0.203,0.3167) (0.212,0.3182) (0.221,0.3170) (0.230,0.3179) (0.239,0.3166) (0.248,0.3182) (0.258,0.3171) (0.269,0.3178) (0.281,0.3168)
(0.160,0.3136) (0.171,0.3123) (0.181,0.3138) (0.190,0.3124) (0.199,0.3135) (0.208,0.3122) (0.217,0.3137) (0.226,0.3125) (0.235,0.3134) (0.244,0.3121) (0.254,0.3137) (0.265,0.3126) (0.277,0.3133)
(0.164,0.3091) (0.175,0.3078) (0.185,0.3093) (0.195,0.3079) (0.205,0.3090) (0.215,0.3077) (0.225,0.3092) (0.235,0.3080) (0.246,0.3089) (0.258,0.3076) (0.271,0.3091)
(0.168,0.3046) (0.180,0.3033) (0.191,0.3048) (0.202,0.3034) (0.213,0.3045) (0.224,0.3032) (0.236,0.3047) (0.249,0.3035) (0.262,0.3044)
(0.173,0.3001) (0.186,0.2988) (0.199,0.3003) (0.212,0.2989) (0.226,0.3000) (0.241,0.2987) (0.256,0.3002)
(0.178,0.2956) (0.193,0.2943) (0.208,0.2958) (0.224,0.2944) (0.240,0.2955)
(0.185,0.2911) (0.201,0.2898) (0.218,0.2913) (0.236,0.2899)
(0.192,0.2866) (0.212,0.2853) (0.230,0.2868)
};
% filling around the centre
\addplot[rpts=rgreen] coordinates {
(0.170,0.4101) (0.180,0.4094) (0.190,0.4100) (0.200,0.4093) (0.210,0.4101) (0.220,0.4095) (0.230,0.4102) (0.240,0.4094)
(0.165,0.4056) (0.175,0.4049) (0.185,0.4055) (0.195,0.4048) (0.205,0.4056) (0.215,0.4050) (0.225,0.4057) (0.235,0.4049) (0.245,0.4055) (0.255,0.4048)
(0.158,0.4011) (0.168,0.4004) (0.178,0.4010) (0.188,0.4003) (0.198,0.4011) (0.208,0.4005) (0.218,0.4012) (0.228,0.4004) (0.238,0.4010) (0.248,0.4003) (0.258,0.4011)
(0.152,0.3966) (0.162,0.3959) (0.172,0.3965) (0.182,0.3958) (0.250,0.3966) (0.258,0.3960) (0.267,0.3967)
(0.148,0.3921) (0.158,0.3914) (0.168,0.3920) (0.178,0.3913) (0.247,0.3921) (0.256,0.3915) (0.266,0.3922)
(0.146,0.3876) (0.156,0.3869) (0.166,0.3875) (0.175,0.3868) (0.254,0.3876) (0.263,0.3870) (0.273,0.3877)
(0.144,0.3831) (0.154,0.3824) (0.164,0.3830) (0.172,0.3823) (0.258,0.3831) (0.267,0.3825) (0.277,0.3832)
(0.142,0.3786) (0.152,0.3779) (0.161,0.3785) (0.169,0.3778) (0.261,0.3786) (0.270,0.3780) (0.280,0.3787)
(0.140,0.3741) (0.150,0.3734) (0.160,0.3740) (0.169,0.3733) (0.265,0.3741) (0.274,0.3735) (0.284,0.3742)
(0.141,0.3696) (0.151,0.3689) (0.160,0.3695) (0.168,0.3688) (0.261,0.3696) (0.270,0.3690) (0.280,0.3697)
(0.143,0.3651) (0.153,0.3644) (0.162,0.3650) (0.171,0.3643) (0.264,0.3651) (0.273,0.3645) (0.283,0.3652)
(0.140,0.3606) (0.150,0.3599) (0.159,0.3605) (0.168,0.3598) (0.267,0.3606) (0.276,0.3600) (0.286,0.3607)
(0.142,0.3561) (0.152,0.3554) (0.161,0.3560) (0.170,0.3553) (0.263,0.3561) (0.272,0.3555) (0.282,0.3562)
(0.145,0.3516) (0.155,0.3509) (0.163,0.3515) (0.169,0.3508) (0.268,0.3516) (0.277,0.3510) (0.287,0.3517)
(0.149,0.3471) (0.158,0.3464) (0.166,0.3470) (0.173,0.3463) (0.265,0.3471) (0.274,0.3465) (0.284,0.3472)
(0.153,0.3426) (0.161,0.3419) (0.169,0.3425) (0.177,0.3418) (0.262,0.3426) (0.271,0.3420) (0.281,0.3427)
(0.157,0.3381) (0.165,0.3374) (0.173,0.3380) (0.180,0.3373) (0.257,0.3381) (0.266,0.3375) (0.276,0.3382)
(0.161,0.3336) (0.169,0.3329) (0.177,0.3335) (0.184,0.3328) (0.253,0.3336) (0.262,0.3330) (0.272,0.3337)
(0.165,0.3291) (0.173,0.3284) (0.181,0.3290) (0.187,0.3283) (0.249,0.3291) (0.258,0.3285) (0.268,0.3292)
(0.169,0.3246) (0.177,0.3239) (0.185,0.3245) (0.190,0.3238) (0.245,0.3246) (0.254,0.3240) (0.264,0.3247)
(0.173,0.3201) (0.181,0.3194) (0.188,0.3200) (0.194,0.3193) (0.241,0.3201) (0.250,0.3195) (0.260,0.3202)
(0.177,0.3156) (0.185,0.3149) (0.192,0.3155) (0.198,0.3148) (0.238,0.3156) (0.246,0.3150) (0.256,0.3157)
(0.182,0.3111) (0.190,0.3104) (0.198,0.3110) (0.206,0.3103) (0.214,0.3111) (0.222,0.3105) (0.230,0.3112) (0.238,0.3104) (0.246,0.3110)
(0.187,0.3066) (0.196,0.3059) (0.205,0.3065) (0.214,0.3058) (0.223,0.3066) (0.232,0.3060) (0.241,0.3067)
(0.193,0.3021) (0.203,0.3014) (0.213,0.3020) (0.223,0.3013) (0.233,0.3021)
};
% dense centre of the cloud
\addplot[rpts=rgreen] coordinates {
(0.190,0.3921) (0.197,0.3915) (0.204,0.3922) (0.211,0.3914) (0.218,0.3921) (0.225,0.3916) (0.232,0.3922) (0.239,0.3915)
(0.183,0.3875) (0.190,0.3869) (0.197,0.3876) (0.204,0.3868) (0.211,0.3875) (0.218,0.3870) (0.225,0.3876) (0.232,0.3869) (0.239,0.3874) (0.246,0.3868)
(0.180,0.3831) (0.187,0.3825) (0.194,0.3832) (0.201,0.3824) (0.208,0.3831) (0.215,0.3826) (0.222,0.3832) (0.229,0.3825) (0.236,0.3830) (0.243,0.3824) (0.250,0.3831)
(0.176,0.3785) (0.183,0.3779) (0.190,0.3786) (0.197,0.3778) (0.204,0.3785) (0.211,0.3780) (0.218,0.3786) (0.225,0.3779) (0.232,0.3784) (0.239,0.3778) (0.246,0.3785) (0.253,0.3780)
(0.180,0.3741) (0.187,0.3735) (0.194,0.3742) (0.201,0.3734) (0.208,0.3741) (0.215,0.3736) (0.222,0.3742) (0.229,0.3735) (0.236,0.3740) (0.243,0.3734) (0.250,0.3741) (0.257,0.3736)
(0.176,0.3695) (0.183,0.3689) (0.190,0.3696) (0.197,0.3688) (0.204,0.3695) (0.211,0.3690) (0.218,0.3696) (0.225,0.3689) (0.232,0.3694) (0.239,0.3688) (0.246,0.3695) (0.253,0.3690)
(0.179,0.3651) (0.186,0.3645) (0.193,0.3652) (0.200,0.3644) (0.207,0.3651) (0.214,0.3646) (0.221,0.3652) (0.228,0.3645) (0.235,0.3650) (0.242,0.3644) (0.249,0.3651) (0.256,0.3646)
(0.175,0.3605) (0.182,0.3599) (0.189,0.3606) (0.196,0.3598) (0.203,0.3605) (0.210,0.3600) (0.217,0.3606) (0.224,0.3599) (0.231,0.3604) (0.238,0.3598) (0.245,0.3605) (0.252,0.3600) (0.259,0.3606)
(0.178,0.3561) (0.185,0.3555) (0.192,0.3562) (0.199,0.3554) (0.206,0.3561) (0.213,0.3556) (0.220,0.3562) (0.227,0.3555) (0.234,0.3560) (0.241,0.3554) (0.248,0.3561) (0.255,0.3556)
(0.176,0.3515) (0.183,0.3509) (0.190,0.3516) (0.197,0.3508) (0.204,0.3515) (0.211,0.3510) (0.218,0.3516) (0.225,0.3509) (0.232,0.3514) (0.239,0.3508) (0.246,0.3515) (0.253,0.3510) (0.260,0.3516)
(0.180,0.3471) (0.187,0.3465) (0.194,0.3472) (0.201,0.3464) (0.208,0.3471) (0.215,0.3466) (0.222,0.3472) (0.229,0.3465) (0.236,0.3470) (0.243,0.3464) (0.250,0.3471) (0.257,0.3466)
(0.184,0.3425) (0.191,0.3419) (0.198,0.3426) (0.205,0.3418) (0.212,0.3425) (0.219,0.3420) (0.226,0.3426) (0.233,0.3419) (0.240,0.3424) (0.247,0.3418) (0.254,0.3425)
(0.187,0.3381) (0.194,0.3375) (0.201,0.3382) (0.208,0.3374) (0.215,0.3381) (0.222,0.3376) (0.229,0.3382) (0.236,0.3375) (0.243,0.3380) (0.250,0.3374)
(0.190,0.3335) (0.197,0.3329) (0.204,0.3336) (0.211,0.3328) (0.218,0.3335) (0.225,0.3330) (0.232,0.3336) (0.239,0.3329) (0.246,0.3334)
(0.193,0.3291) (0.200,0.3285) (0.207,0.3292) (0.214,0.3284) (0.221,0.3291) (0.228,0.3286) (0.235,0.3292) (0.242,0.3285)
(0.196,0.3245) (0.203,0.3239) (0.210,0.3246) (0.217,0.3238) (0.224,0.3245) (0.231,0.3240) (0.238,0.3246)
(0.200,0.3201) (0.207,0.3195) (0.214,0.3202) (0.221,0.3194) (0.228,0.3201) (0.235,0.3196)
(0.204,0.3155) (0.211,0.3149) (0.218,0.3156) (0.225,0.3148) (0.232,0.3155)
(0.1885,0.3861) (0.1955,0.3855) (0.2025,0.3862) (0.2095,0.3854) (0.2165,0.3861) (0.2235,0.3856) (0.2305,0.3862) (0.2375,0.3855) (0.2445,0.3860)
(0.1885,0.3816) (0.1955,0.3810) (0.2025,0.3817) (0.2095,0.3809) (0.2165,0.3816) (0.2235,0.3811) (0.2305,0.3817) (0.2375,0.3810) (0.2445,0.3815)
(0.1885,0.3771) (0.1955,0.3765) (0.2025,0.3772) (0.2095,0.3764) (0.2165,0.3771) (0.2235,0.3766) (0.2305,0.3772) (0.2375,0.3765) (0.2445,0.3770)
(0.1885,0.3726) (0.1955,0.3720) (0.2025,0.3727) (0.2095,0.3719) (0.2165,0.3726) (0.2235,0.3721) (0.2305,0.3727) (0.2375,0.3720) (0.2445,0.3725)
(0.1885,0.3681) (0.1955,0.3675) (0.2025,0.3682) (0.2095,0.3674) (0.2165,0.3681) (0.2235,0.3676) (0.2305,0.3682) (0.2375,0.3675) (0.2445,0.3680)
(0.1885,0.3636) (0.1955,0.3630) (0.2025,0.3637) (0.2095,0.3629) (0.2165,0.3636) (0.2235,0.3631) (0.2305,0.3637) (0.2375,0.3630) (0.2445,0.3635)
(0.1885,0.3591) (0.1955,0.3585) (0.2025,0.3592) (0.2095,0.3584) (0.2165,0.3591) (0.2235,0.3586) (0.2305,0.3592) (0.2375,0.3585) (0.2445,0.3590)
(0.1885,0.3546) (0.1955,0.3540) (0.2025,0.3547) (0.2095,0.3539) (0.2165,0.3546) (0.2235,0.3541) (0.2305,0.3547) (0.2375,0.3540) (0.2445,0.3545)
(0.1885,0.3501) (0.1955,0.3495) (0.2025,0.3502) (0.2095,0.3494) (0.2165,0.3501) (0.2235,0.3496) (0.2305,0.3502) (0.2375,0.3495) (0.2445,0.3500)
(0.1885,0.3456) (0.1955,0.3450) (0.2025,0.3457) (0.2095,0.3449) (0.2165,0.3456) (0.2235,0.3451) (0.2305,0.3457) (0.2375,0.3450) (0.2445,0.3455)
(0.1955,0.3411) (0.2025,0.3405) (0.2095,0.3412) (0.2165,0.3404) (0.2235,0.3411) (0.2305,0.3406) (0.2375,0.3412) (0.2445,0.3405)
(0.1955,0.3366) (0.2025,0.3360) (0.2095,0.3367) (0.2165,0.3359) (0.2235,0.3366) (0.2305,0.3361) (0.2375,0.3367)
(0.2025,0.3321) (0.2095,0.3315) (0.2165,0.3322) (0.2235,0.3314) (0.2305,0.3321) (0.2375,0.3316)
(0.2095,0.3276) (0.2165,0.3270) (0.2235,0.3277) (0.2305,0.3269)
};
% true parameter values
\addplot[rref] coordinates {(0.2,0.2) (0.2,0.5)};
\addplot[rref] coordinates {(0.0,0.4) (0.45,0.4)};
\end{axis}

% titles and axis labels
\node[anchor=base, font=\bfseries\fontsize{21}{25}\selectfont] at (208.9pt,386.5pt) {NBB оцене параметара};
\node[anchor=base, font=\bfseries\fontsize{21}{25}\selectfont] at (578.6pt,386.5pt) {MBB оцене параметара};
\node at (208.9pt,11.25pt) {\philab{1}};
\node at (578.6pt,11.25pt) {\philab{1}};
\node[rotate=90] at (16.9pt,219pt) {\philab{2}};
\node[rotate=90] at (384pt,219pt) {\philab{2}};
\end{tikzpicture}
\end{document}
